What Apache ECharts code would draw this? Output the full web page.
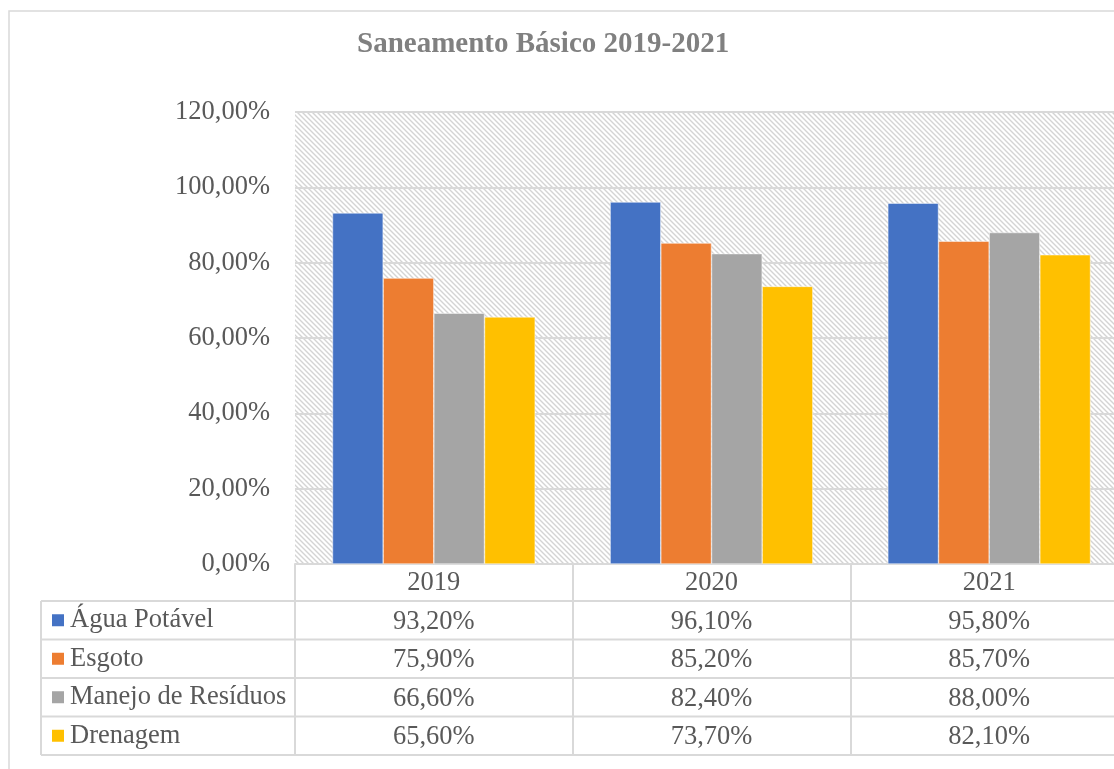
<!DOCTYPE html>
<html>
<head>
<meta charset="utf-8">
<style>
  html, body { margin: 0; padding: 0; background: #fff; }
  #main { width: 1114px; height: 769px; }
</style>
<script src="https://cdn.jsdelivr.net/npm/echarts@6/dist/echarts.min.js"></script>
</head>
<body>
<div id="main"></div>
<script>
// dados do gráfico
var anos = ["2019", "2020", "2021"];
var agua = [93.2, 96.1, 95.8];
var esgoto = [75.9, 85.2, 85.7];
var residuos = [66.6, 82.4, 88.0];
var drenagem = [65.6, 73.7, 82.1];
var nomes = ["Água Potável", "Esgoto", "Manejo de Resíduos", "Drenagem"];
var cores = ["#4472C4", "#ED7D31", "#A5A5A5", "#FFC000"];

var fonte = "'Liberation Serif', 'Times New Roman', serif";
var cinza = "#595959";
var linha = "#d9d9d9";
var tam = 26.5;

function pct(v) {
  return v.toFixed(2).replace(".", ",") + "%";
}

// hachurado do fundo da área de plotagem
function hachura() {
  var c = document.createElement("canvas");
  c.width = 5;
  c.height = 5;
  var ctx = c.getContext("2d");
  ctx.fillStyle = "#fff";
  ctx.fillRect(0, 0, 5, 5);
  ctx.strokeStyle = "#d4d4d4";
  ctx.lineWidth = 1.4;
  ctx.beginPath();
  ctx.moveTo(-1, -1); ctx.lineTo(6, 6);
  ctx.moveTo(-1, 4); ctx.lineTo(1, 6);
  ctx.moveTo(4, -1); ctx.lineTo(6, 1);
  ctx.stroke();
  return c;
}

var myChart = echarts.init(document.getElementById("main"));

var series = [agua, esgoto, residuos, drenagem];

// layout da tabela de dados
var gLeft = 295, gTop = 112, gWidth = 833, gHeight = 452;
var rowH = 38.5;
var tabTop = gTop + gHeight + 37;
var tabLeft = 41;
var linhas = [];
for (var i = 0; i <= 4; i++) {
  linhas.push({
    type: "line",
    shape: { x1: tabLeft, y1: tabTop + i * rowH, x2: 1200, y2: tabTop + i * rowH },
    style: { stroke: linha, lineWidth: 2 }
  });
}
linhas.push({
  type: "line",
  shape: { x1: tabLeft, y1: tabTop, x2: tabLeft, y2: tabTop + 4 * rowH },
  style: { stroke: linha, lineWidth: 2 }
});
linhas.push({
  type: "rect",
  shape: { x: 9, y: 11, width: 1300, height: 900 },
  style: { fill: null, stroke: linha, lineWidth: 1.5 },
  z: -10
});

var option = {
  backgroundColor: "#fff",
  animation: false,
  title: {
    text: "Saneamento Básico 2019-2021",
    left: 352,
    top: 25,
    textStyle: { fontFamily: fonte, fontSize: 29, fontWeight: "bold", color: "#808080" }
  },
  legend: {
    data: nomes,
    orient: "vertical",
    left: 50,
    top: tabTop,
    padding: 0,
    itemGap: 0,
    itemWidth: 14,
    itemHeight: 14,
    icon: "rect",
    selectedMode: false,
    textStyle: { fontFamily: fonte, fontSize: tam, color: cinza, lineHeight: rowH }
  },
  grid: {
    left: gLeft,
    top: gTop,
    width: gWidth,
    height: gHeight,
    outerBoundsMode: "none",
    containLabel: false,
    show: true,
    borderWidth: 0,
    backgroundColor: { image: hachura(), repeat: "repeat" }
  },
  xAxis: {
    type: "category",
    data: anos,
    axisLine: { show: true, lineStyle: { color: linha, width: 2 } },
    axisTick: { show: true, length: 37 + 4 * rowH, lineStyle: { color: linha, width: 2 } },
    axisLabel: {
      margin: 0,
      fontFamily: fonte,
      fontSize: tam,
      color: cinza,
      lineHeight: rowH,
      formatter: function (v, idx) {
        var out = [v];
        for (var s = 0; s < series.length; s++) out.push(pct(series[s][idx]));
        return out.join("\n");
      }
    }
  },
  yAxis: {
    type: "value",
    min: 0,
    max: 120,
    interval: 20,
    axisLine: { show: false },
    axisTick: { show: false },
    splitLine: { lineStyle: { color: linha, width: 2 } },
    axisLabel: {
      margin: 25,
      fontFamily: fonte,
      fontSize: tam,
      color: cinza,
      formatter: function (v) { return pct(v); }
    }
  },
  series: nomes.map(function (n, i) {
    return {
      name: n,
      type: "bar",
      data: series[i],
      barGap: "0%",
      barCategoryGap: "27%",
      itemStyle: { color: cores[i], borderColor: "#fff", borderWidth: 0.5 }
    };
  }),
  graphic: linhas
};

myChart.setOption(option);
</script>
</body>
</html>
